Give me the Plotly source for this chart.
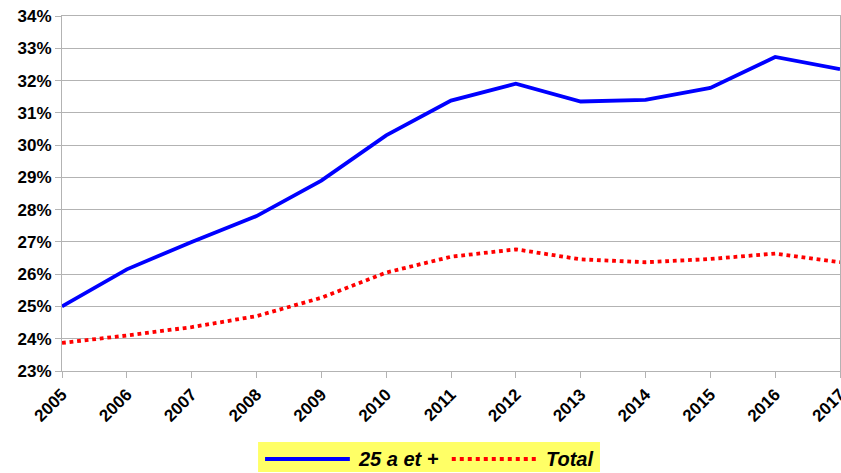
import plotly.graph_objects as go

years = [str(y) for y in range(2005, 2018)]
age25 = [25.0, 26.15, 27.0, 27.8, 28.9, 30.3, 31.38, 31.9, 31.35, 31.4, 31.77, 32.73, 32.35]
total = [23.87, 24.1, 24.36, 24.7, 25.27, 26.05, 26.54, 26.77, 26.46, 26.37, 26.47, 26.64, 26.37]
yticks = list(range(23, 35))
ytick_text = [f"{v}%" for v in yticks]
series_names = ["25 a et +", "Total"]
colors = ["#0000ff", "#ff0000"]
dashes = ["solid", "dot"]

fig = go.Figure()
for name, vals, c, d in zip(series_names, [age25, total], colors, dashes):
    fig.add_trace(go.Scatter(x=years, y=vals, mode="lines", name=name,
                             line=dict(color=c, width=3.8, dash=d), showlegend=False))

# custom legend (yellow box)
fig.add_shape(type="rect", xref="paper", yref="paper", x0=0.252, x1=0.6915,
              y0=-0.2845, y1=-0.2, fillcolor="#ffff66", line=dict(width=0), layer="below")
leg_y = -0.248
for (lx0, lx1, tx), name, c, d in zip([(0.261, 0.370, 0.378), (0.501, 0.6105, 0.619)],
                                       series_names, colors, dashes):
    fig.add_shape(type="line", xref="paper", yref="paper", x0=lx0, x1=lx1, y0=leg_y, y1=leg_y,
                  line=dict(color=c, width=4, dash=d))
    fig.add_annotation(x=tx, y=leg_y, xref="paper", yref="paper", text=f"<b><i>{name}</i></b>",
                       showarrow=False, xanchor="left", yanchor="middle",
                       font=dict(size=20, color="black"))

fig.update_layout(
    width=841, height=473,
    margin=dict(l=62, r=1, t=16, b=102),
    paper_bgcolor="white", plot_bgcolor="white",
    font=dict(family="Liberation Sans, Arial, sans-serif", size=15, color="black"),
    showlegend=False,
)
fig.update_xaxes(type="category", range=[0, 12], tickangle=-45, automargin=False,
                 showgrid=False, showline=True, linecolor="#b3b3b3", mirror=True,
                 ticks="outside", tickcolor="#b3b3b3", ticklen=6, ticklabeloverflow="allow",
                 tickfont=dict(size=17, weight="bold"))
fig.update_yaxes(range=[23, 34], tickvals=yticks, ticktext=ytick_text, automargin=False,
                 showgrid=True, gridcolor="#b3b3b3", showline=True, linecolor="#b3b3b3",
                 mirror=True, ticks="outside", tickcolor="#b3b3b3", ticklen=6,
                 ticklabeloverflow="allow",
                 tickfont=dict(size=17, weight="bold"), zeroline=False)

post = ("document.body.style.margin='0';document.body.style.overflow='hidden';"
        "var gd=document.getElementById('{plot_id}');"
        "Plotly.relayout(gd,{width:841,height:473});")
fig.write_html("out.html", post_script=post, config={"displayModeBar": False})
